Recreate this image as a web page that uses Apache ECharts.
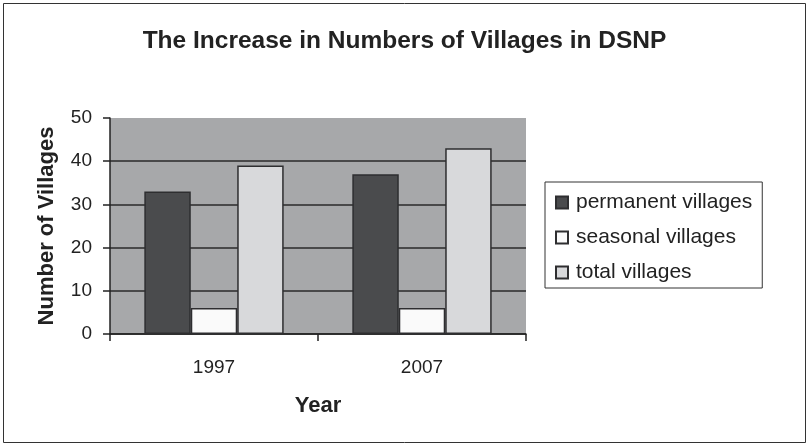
<!DOCTYPE html>
<html>
<head>
<meta charset="utf-8">
<script src="https://cdn.jsdelivr.net/npm/echarts@6/dist/echarts.min.js"></script>
<style>
  html, body { margin: 0; padding: 0; background: #fff; }
  #chart { width: 809px; height: 447px; }
</style>
</head>
<body>
<div id="chart"></div>
<script>
// Village counts in DSNP for the two survey years
var years = ['1997', '2007'];
var permanentVillages = [33, 37];
var seasonalVillages = [6, 6];
var totalVillages = [39, 43];
var seriesNames = ['permanent villages', 'seasonal villages', 'total villages'];

var FONT = 'Liberation Sans, Arial, sans-serif';
var INK = '#222';

function barSeries(name, data, fill) {
  return {
    name: name,
    type: 'bar',
    data: data,
    barGap: '0%',
    barCategoryGap: '33%',
    itemStyle: { color: fill, borderColor: '#2e2e30', borderWidth: 1.5 },
    emphasis: { disabled: true }
  };
}

var chart = echarts.init(document.getElementById('chart'));
chart.setOption({
  animation: false,
  backgroundColor: '#fff',
  graphic: [{
    type: 'rect',
    shape: { x: 3.5, y: 3.5, width: 802, height: 439 },
    style: { fill: 'none', stroke: '#333', lineWidth: 1 },
    z: -1
  }],
  title: {
    text: 'The Increase in Numbers of Villages in DSNP',
    left: 'center',
    top: 24,
    textStyle: { fontFamily: FONT, fontWeight: 'bold', fontSize: 24.5, color: INK }
  },
  legend: {
    orient: 'vertical',
    left: 545,
    top: 182,
    padding: [10, 10, 5, 10],
    itemGap: 14,
    itemWidth: 12,
    itemHeight: 12,
    icon: 'rect',
    borderColor: '#333',
    borderWidth: 1,
    data: seriesNames,
    textStyle: { fontFamily: FONT, fontSize: 21, lineHeight: 21, color: INK, padding: [0, 0, 0, 3] }
  },
  grid: {
    left: 110, right: 283, top: 118, bottom: 113,
    show: true,
    backgroundColor: '#a7a8aa',
    borderWidth: 0
  },
  xAxis: {
    type: 'category',
    data: years,
    name: 'Year',
    nameLocation: 'middle',
    nameGap: 61,
    nameTextStyle: { fontFamily: FONT, fontWeight: 'bold', fontSize: 22, color: INK },
    axisLine: { lineStyle: { color: INK, width: 1.5 } },
    axisTick: { show: true, length: 7, lineStyle: { color: INK, width: 1.5 } },
    axisLabel: { fontFamily: FONT, fontSize: 19, color: INK, margin: 24 }
  },
  yAxis: {
    type: 'value',
    min: 0,
    max: 50,
    interval: 10,
    name: 'Number of Villages',
    nameLocation: 'middle',
    nameGap: 52,
    nameTextStyle: { fontFamily: FONT, fontWeight: 'bold', fontSize: 22, color: INK },
    axisLine: { show: true, lineStyle: { color: INK, width: 1.5 } },
    axisTick: { show: true, length: 7, lineStyle: { color: INK, width: 1.5 } },
    axisLabel: { fontFamily: FONT, fontSize: 19, color: INK, margin: 18 },
    splitLine: { show: true, showMaxLine: false, lineStyle: { color: '#2a2a2a', width: 1.5 } }
  },
  series: [
    barSeries(seriesNames[0], permanentVillages, '#4a4b4d'),
    barSeries(seriesNames[1], seasonalVillages, '#fafafa'),
    barSeries(seriesNames[2], totalVillages, '#d8d9db')
  ]
});
</script>
</body>
</html>
